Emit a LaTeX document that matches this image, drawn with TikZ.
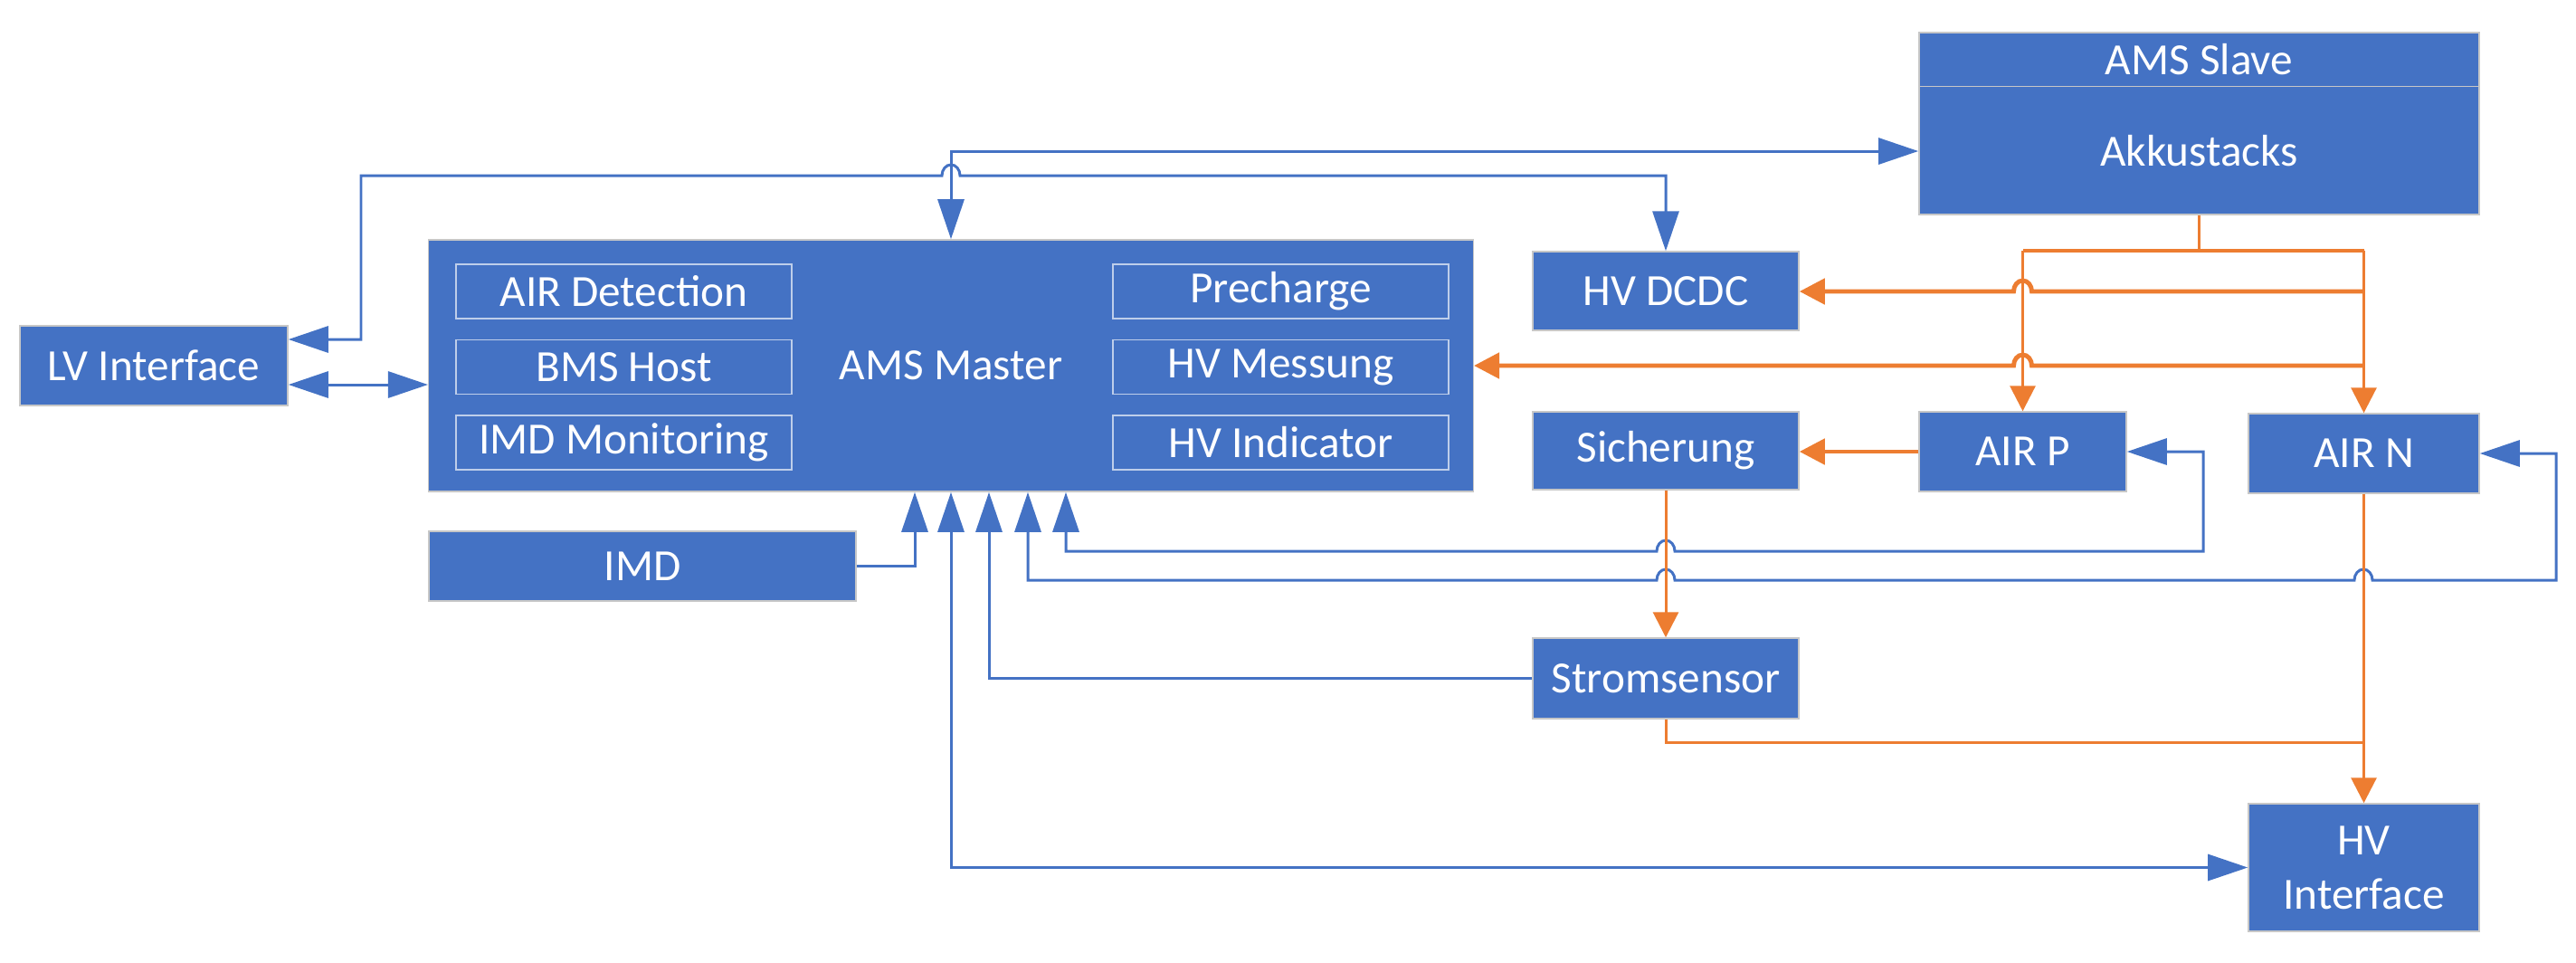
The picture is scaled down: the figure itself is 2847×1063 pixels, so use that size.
\documentclass[tikz,border=0pt]{standalone}
\usepackage{fontspec}
\setmainfont{Carlito}
\usetikzlibrary{arrows.meta,calc}
\definecolor{oblue}{RGB}{68,114,196}
\definecolor{oorange}{RGB}{237,125,49}
\begin{document}
\begin{tikzpicture}[x=0.01cm,y=-0.01cm,
  box/.style={draw=black!22, line width=0.4pt, fill=oblue, text=white, inner sep=0pt,
    align=center, font=\fontsize{14}{17}\selectfont},
  sub/.style={draw=white!65!oblue, line width=0.4pt, fill=oblue, text=white, inner sep=0pt,
    minimum width=3.71cm, minimum height=0.6cm, font=\fontsize{14}{17}\selectfont},
  txt/.style={text=white, inner sep=0pt, font=\fontsize{14}{17}\selectfont},
  bl/.style={draw=oblue, line width=0.85pt},
  ol/.style={draw=oorange, line width=0.85pt},
  olt/.style={draw=oorange, line width=1.4pt},
  barr/.style={-{Triangle[length=4.4mm,width=2.9mm]}},
  bboth/.style={{Triangle[length=4.4mm,width=2.9mm]}-{Triangle[length=4.4mm,width=2.9mm]}},
  oarr/.style={-{Triangle[length=2.8mm,width=2.8mm]}},
  hopr/.style={},
]
\useasboundingbox[fill=white] (0,0) rectangle (2847,1063);

% boxes
\node[box, minimum width=2.96cm, minimum height=0.88cm] (lv) at (170,404) {LV Interface};
\node[box, minimum width=11.54cm, minimum height=2.78cm] (ams) at (1051,404) {};
\node[txt] (amst) at (1051,404) {AMS Master};
\node[sub] (s1) at (689.5,322) {AIR Detection};
\node[sub] (s2) at (689.5,405.5) {BMS Host};
\node[sub] (s3) at (689.5,489) {IMD Monitoring};
\node[sub] (s4) at (1415.5,322) {Precharge};
\node[sub] (s5) at (1415.5,405.5) {HV Messung};
\node[sub] (s6) at (1415.5,489) {HV Indicator};
\node[box, minimum width=4.72cm, minimum height=0.77cm] (imd) at (710,625.5) {IMD};
\node[box, minimum width=2.94cm, minimum height=0.87cm] (dcdc) at (1841,321.5) {HV DCDC};
\node[box, minimum width=2.94cm, minimum height=0.86cm] (sich) at (1841,498) {Sicherung};
\node[box, minimum width=2.94cm, minimum height=0.89cm] (strom) at (1841,749.5) {Stromsensor};
\node[box, minimum width=6.19cm, minimum height=2.01cm] (slave) at (2430.5,136.5) {};
\node[txt] (slaveh) at (2430.5,66) {AMS Slave};
\node[txt] (akku) at (2430.5,167) {Akkustacks};
\draw[draw=black!22, line width=0.4pt] ($(slave.north west)+(0,60)$) -- ($(slave.north east)+(0,60)$);
\node[box, minimum width=2.29cm, minimum height=0.88cm] (airp) at (2235.5,499) {AIR P};
\node[box, minimum width=2.55cm, minimum height=0.88cm] (airn) at (2612.5,501) {AIR N};
\node[box, minimum width=2.55cm, minimum height=1.41cm] (hvi) at (2612.5,958.5) {HV\\Interface};

% blue connectors
\draw[bl,bboth] (ams.north) |- (slave.west |- 0,167);
\draw[bl,bboth] (lv.east |- 0,375) -- (399,375) -- (399,194) -- (1041,194)
  arc[start angle=180,end angle=0,x radius=0.1cm,y radius=0.12cm]
  -- (dcdc.north |- 0,194) -- (dcdc.north);
\draw[bl,bboth] (lv.east |- 0,425) -- (ams.west |- 0,425);
\draw[bl,barr] (imd.east) -| (ams.south -| 1011,0);
\draw[bl,bboth] (ams.south) |- (hvi.west);
\draw[bl,barr] (strom.west) -| (ams.south -| 1093,0);
\draw[bl,bboth] (ams.south -| 1136,0) -- (1136,641) -- (1831,641)
  arc[start angle=180,end angle=0,x radius=0.1cm,y radius=0.12cm]
  -- (2602,641)
  arc[start angle=180,end angle=0,x radius=0.1cm,y radius=0.12cm]
  -- (2825,641) -- (2825,501) -- (airn.east);
\draw[bl,bboth] (ams.south -| 1178,0) -- (1178,609) -- (1831,609)
  arc[start angle=180,end angle=0,x radius=0.1cm,y radius=0.12cm]
  -- (2435,609) -- (2435,499) -- (airp.east);

% orange connectors
\coordinate (jp) at (airp.north |- 0,277);
\coordinate (jn) at (airn.north |- 0,277);
\draw[ol] (slave.south) -- (slave.south |- 0,277);
\draw[olt] (jp) -- (jn);
\draw[ol,oarr] (jp) -- (airp.north);
\draw[ol,oarr] (jn) -- (airn.north);
\draw[olt,oarr] (jn |- 0,322) -- (2245.5,322)
  arc[start angle=0,end angle=180,x radius=0.1cm,y radius=0.12cm]
  -- (dcdc.east |- 0,322);
\draw[olt,oarr] (jn |- 0,404) -- (2245.5,404)
  arc[start angle=0,end angle=180,x radius=0.1cm,y radius=0.12cm]
  -- (ams.east |- 0,404);
\draw[olt,oarr] (airp.west) -- (sich.east |- airp.west);
\draw[ol,oarr] (sich.south) -- (strom.north);
\draw[ol] (strom.south) |- (airn.south |- 0,820);
\draw[ol,oarr] (airn.south) -- (hvi.north);
\end{tikzpicture}
\end{document}
